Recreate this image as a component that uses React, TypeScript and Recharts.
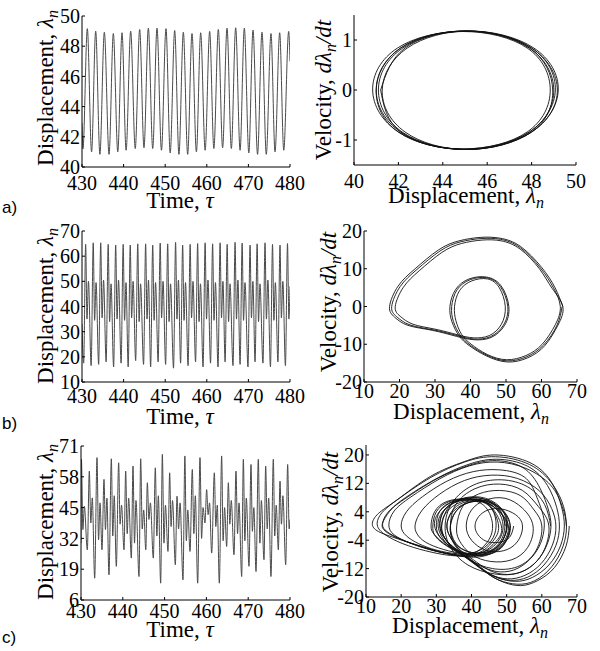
import { LineChart, Line, XAxis, YAxis } from "recharts";

type Pt = [number, number];

const SERIF = "Liberation Serif, DejaVu Serif, serif";
const SANS = "Liberation Sans, Arial, sans-serif";

// tick labels
const timeTicks = [430, 440, 450, 460, 470, 480];
const dispTicksA = [40, 42, 44, 46, 48, 50];
const velTicksA = [-1, 0, 1];
const dispTicksB = [10, 20, 30, 40, 50, 60, 70];
const velTicksB = [-20, -10, 0, 10, 20];
const dispTicksC = [6, 19, 32, 45, 58, 71];
const velTicksC = [-20, -12, -4, 4, 12, 20];

// a) time series: [tau, lambda] at turning points
const tsA: Pt[] = [
  [430, 42.9], [430.23, 41.2], [431.28, 49.16], [432.3, 41.0], [433.29, 49.0], [434.3, 40.84],
  [435.37, 48.93], [436.5, 40.84], [437.53, 48.84], [438.6, 41.0], [439.62, 48.89], [440.6, 41.11],
  [441.7, 49.0], [442.8, 41.22], [443.86, 49.11], [444.9, 41.27], [445.95, 49.2], [447.0, 41.22],
  [448.03, 49.2], [449.1, 41.11], [450.19, 49.16], [451.2, 40.93], [452.28, 49.04], [453.3, 40.84],
  [454.36, 48.93], [455.4, 40.84], [456.44, 48.84], [457.5, 41.0], [458.53, 48.89], [459.6, 41.11],
  [460.69, 48.98], [461.7, 41.22], [462.77, 49.11], [463.8, 41.27], [464.86, 49.2], [465.9, 41.22],
  [466.94, 49.22], [468.0, 41.11], [469.02, 49.2], [470.1, 40.93], [471.11, 49.07], [472.2, 40.84],
  [473.27, 48.93], [474.3, 40.84], [475.43, 48.84], [476.4, 41.0], [477.52, 48.89], [478.5, 41.11],
  [479.68, 48.98], [480, 47.0],
];

// a) phase portrait: [lambda, dlambda/dt]
const phaseA: Pt[] = [
  [41.2, 0], [42.3, 0.84], [45.1, 1.18], [48.0, 0.84], [49.16, 0], [48.0, -0.84], [45.0, -1.19], [42.1, -0.84],
  [41.0, 0], [42.1, 0.84], [45.0, 1.18], [47.9, 0.84], [49.0, 0], [47.9, -0.84], [44.9, -1.18], [42.0, -0.84],
  [40.84, 0], [41.96, 0.84], [44.9, 1.17], [47.8, 0.84], [48.84, 0], [47.8, -0.84], [44.9, -1.18], [42.0, -0.84],
  [41.0, 0], [42.1, 0.84], [45.0, 1.18], [47.9, 0.84], [48.95, 0], [48.0, -0.84], [45.1, -1.19], [42.3, -0.84],
  [41.27, 0], [42.4, 0.84], [45.2, 1.18], [48.1, 0.84], [49.2, 0], [48.0, -0.84], [45.1, -1.19], [42.2, -0.85],
  [41.1, 0], [42.2, 0.84], [45.1, 1.18], [48.0, 0.84], [49.07, 0], [47.9, -0.84], [45.0, -1.19], [42.1, -0.84],
  [41.2, 0],
];

// b) time series
const tsB: Pt[] = [
  [430, 33], [430.4, 17.5], [430.88, 64.7], [431.2, 35], [431.55, 50], [432.2, 16.5],
  [432.7, 65.3], [433.03, 34.5], [433.38, 49.5], [434.0, 17], [434.5, 65.3], [434.83, 35.5],
  [435.18, 50.5], [435.8, 18], [436.3, 64.7], [436.63, 34], [436.98, 49], [437.6, 16],
  [438.1, 64.4], [438.43, 35], [438.78, 50.5], [439.4, 17.5], [439.9, 64.7], [440.23, 34.5],
  [440.58, 49.5], [441.1, 16], [441.6, 64.4], [441.93, 35.5], [442.28, 50], [442.9, 18.5],
  [443.4, 64.9], [443.73, 34], [444.08, 49], [444.8, 17], [445.3, 64.9], [445.63, 35],
  [445.98, 50.5], [446.5, 16], [447.0, 64.4], [447.33, 34.5], [447.68, 49.5], [448.3, 18],
  [448.8, 65.2], [449.13, 35.5], [449.48, 50], [450.1, 17], [450.6, 64.9], [450.93, 34],
  [451.28, 49], [452.0, 15.5], [452.5, 65.5], [452.83, 35], [453.18, 50.5], [453.7, 17.5],
  [454.2, 64.4], [454.53, 34.5], [454.88, 49.5], [455.5, 16.5], [456.0, 64.7], [456.33, 35.5],
  [456.68, 50], [457.3, 18], [457.8, 65], [458.13, 34], [458.48, 49], [459.1, 16],
  [459.6, 65.3], [459.93, 35], [460.28, 50.5], [460.9, 17.5], [461.4, 64.9], [461.73, 34.5],
  [462.08, 49.5], [462.7, 16], [463.2, 65.3], [463.53, 35.5], [463.88, 50], [464.4, 18],
  [464.9, 64.7], [465.23, 34], [465.58, 49], [466.3, 16.5], [466.8, 65.5], [467.13, 35],
  [467.48, 50.5], [468.0, 17], [468.5, 65.2], [468.83, 34.5], [469.18, 49.5], [469.9, 16],
  [470.4, 64.4], [470.73, 35.5], [471.08, 50], [471.6, 18], [472.1, 64.9], [472.43, 34],
  [472.78, 49], [473.5, 17.5], [474.0, 65.3], [474.33, 35], [474.68, 50.5], [475.3, 16],
  [475.8, 64.7], [476.13, 34.5], [476.48, 49.5], [477.1, 18], [477.6, 64.4], [477.93, 35.5],
  [478.28, 50], [478.9, 16.5], [479.4, 65], [479.73, 35], [480, 48],
];

// b) phase portrait
const phaseB: Pt[] = [
  [65.8, 0], [64.4, -4.9], [60.6, -10.2], [55.9, -13.3], [50.3, -14.4], [44.6, -12.9], [39.9, -10.2], [37.1, -7.6],
  [35.2, -4], [34.7, 0], [36.2, 4.4], [39.9, 7.1], [44.6, 7.6], [48.4, 5.3], [50.5, 0], [49.3, -4.9],
  [45.6, -8], [40.9, -8.6], [36.2, -7.7], [29.6, -6.2], [23, -4.9], [19.2, -2.7], [17.8, 0], [20.2, 5.3],
  [24.9, 9.8], [31.4, 14.7], [37.1, 17.1], [43, 18], [48.4, 17.8], [54, 15.6], [59.7, 10.2], [63.4, 4.9],
  [65.3, 0], [63.9, -4.8], [60.2, -10], [55.6, -13], [50.2, -14.1], [44.7, -12.7], [40.2, -10], [37.5, -7.4],
  [35.9, -3.8], [35.5, 0], [36.9, 4.2], [40.4, 6.8], [44.8, 7.3], [48.1, 5], [49.8, 0], [48.7, -4.7],
  [45.3, -7.7], [40.8, -8.3], [36.4, -7.5], [30, -6], [23.8, -4.7], [20.2, -2.6], [18.8, 0], [21.1, 5.1],
  [25.6, 9.5], [31.9, 14.3], [37.5, 16.7], [43.3, 17.6], [48.6, 17.4], [54, 15.2], [59.4, 10], [63, 4.8],
  [66, 0], [64.6, -5], [60.9, -10.4], [56.1, -13.6], [50.4, -14.7], [44.5, -13.1], [39.7, -10.4], [36.8, -7.8],
  [34.8, -4.1], [34.2, 0], [35.8, 4.5], [39.6, 7.3], [44.5, 7.8], [48.6, 5.5], [50.8, 0], [49.6, -5],
  [45.8, -8.2], [41, -8.8], [36, -7.9], [29.2, -6.3], [22.4, -5], [18.6, -2.8], [17.2, 0], [19.6, 5.4],
  [24.4, 10], [31, 15], [36.8, 17.4], [42.7, 18.3], [48.3, 18.1], [54.1, 15.9], [60, 10.4], [63.8, 5], [66, 0],
];

// c) time series
const tsC: Pt[] = [
  [430, 30], [430.1, 65.4], [430.45, 35.7], [430.8, 45.6], [431.51, 27.2],
  [431.99, 60.4], [432.35, 38.5], [432.7, 49.1], [433.27, 15.2],
  [433.83, 66.1], [434.2, 31.4], [434.55, 47], [435.02, 27.2],
  [435.5, 56.9], [435.85, 35.7], [436.2, 49], [436.69, 16.6],
  [437.26, 65.6], [437.6, 33], [437.95, 50], [438.45, 20.2],
  [439.01, 63.9], [439.35, 38], [439.7, 46], [440.29, 27.2],
  [440.69, 60.4], [441.05, 34], [441.4, 49], [442.04, 23.7],
  [442.44, 62.5], [442.8, 30], [443.15, 48], [443.88, 15.9],
  [444.28, 65.6], [444.65, 36], [445, 44], [445.5, 27.2],
  [445.87, 55.5], [446.25, 40], [446.6, 47], [447.3, 23.7],
  [447.78, 61.8], [448.15, 33], [448.5, 50], [449.06, 13.1],
  [449.46, 67.5], [449.85, 30], [450.2, 46], [450.81, 26.5],
  [451.21, 59.7], [451.55, 37], [451.9, 48], [452.57, 20.9],
  [452.97, 49.8], [453.35, 36], [453.7, 47], [454.4, 14.5],
  [454.85, 66.8], [455.2, 31], [455.55, 44], [456.08, 26.5],
  [456.63, 61.1], [457, 34], [457.35, 50], [457.91, 13.1],
  [458.47, 66.1], [458.85, 32], [459.2, 45], [459.66, 38.5],
  [460.06, 52.6], [460.4, 42], [460.75, 47], [461.26, 25.8],
  [461.9, 59.7], [462.25, 37], [462.6, 46], [463.09, 13.1],
  [463.65, 66.8], [464, 31], [464.35, 45], [464.85, 28.6],
  [465.25, 55.5], [465.6, 38], [465.95, 48], [466.6, 25.1],
  [467.08, 60.4], [467.45, 34], [467.8, 47], [468.44, 15.9],
  [468.84, 65.4], [469.2, 31], [469.55, 49], [470.19, 20.2],
  [470.67, 63.2], [471, 35], [471.35, 45], [471.87, 18],
  [472.42, 65.4], [472.8, 30], [473.15, 48], [473.78, 23],
  [474.18, 62.5], [474.55, 36], [474.9, 49], [475.45, 15.9],
  [476.01, 65.4], [476.35, 33], [476.7, 46], [477.21, 27.2],
  [477.61, 56.2], [477.95, 38], [478.3, 50], [478.97, 20.9],
  [479.44, 63.2], [479.8, 36], [480, 40],
];

// c) phase portrait: large excursions
const phaseCOuter: Pt[] = [
  [67.8, 0], [66.9, -5.6], [63.6, -11.7], [58.8, -15.4], [54, -16.8], [49.3, -15.9], [45.5, -14], [41.7, -11.2],
  [37, -8], [32, -5], [29.5, -2.5], [29, 0], [30, 4], [33.5, 6.8], [38.5, 7.6], [43.5, 6.8], [48, 4], [50, 0],
  [48.5, -4.5], [44.5, -7.6], [39, -8.6], [32, -7.6], [25, -5.6], [19, -3.6], [14, -1.8], [11.8, 0.4], [13.5, 3.5],
  [18.9, 7.4], [28.4, 14], [37.9, 18.1], [46.5, 20], [56.9, 17.7], [63, 11.9], [65.6, 5.4],
  [66.4, 0], [65.3, -5.6], [62, -11], [57.3, -14.5], [52.5, -15.6], [47.5, -14.6], [43.5, -12.3], [39.5, -9.2],
  [35, -6], [32, -3], [31, 0], [32, 4], [35.5, 6.8], [40.5, 7.4], [45, 6], [48.5, 0], [47, -4.3], [43, -7.5],
  [37.5, -8.3], [30.5, -7.2], [24, -5.3], [18.5, -3.2], [15, -1], [15, 1.5], [17.5, 5], [22, 8.5], [30.5, 13.6],
  [39, 17.3], [47, 18.8], [56, 16.8], [61.6, 11.4], [64.2, 5.3],
  [65, 0], [64, -5.5], [60.6, -11], [56, -14.4], [51, -15.3], [46, -14], [42, -11.5], [38, -8.5], [33, -5.5],
  [29.5, -2.5], [28.5, 0], [29.5, 4], [33, 6.9], [38.5, 7.7], [44, 7], [49, 4.3], [51, 0], [49.5, -4.5],
  [45.5, -7.8], [40, -8.8], [33, -7.8], [26, -5.8], [20, -3.8], [16, -1.6], [14.7, 0.5], [16.2, 3.8], [21, 7.6],
  [30, 13.2], [38.5, 16.8], [46, 18.4], [54.5, 16.5], [59.5, 10.6], [61.8, 4.8],
  [62.6, 0], [61.5, -5.2], [58.5, -10], [54, -13], [49, -13.6], [44.5, -12.2], [40.5, -9.5], [36.5, -6.5],
  [34, -3.2], [33, 0], [34.3, 4], [37.5, 6.5], [42, 7], [45.8, 4.8], [47, 0], [45.5, -4.3], [41.5, -7.2],
  [36, -7.8], [30, -6.8], [25, -5], [21.5, -2.8], [20, 0], [21.5, 4], [26, 8.2], [33, 12.6], [40.5, 15.3],
  [48, 15.8], [55, 13.8], [58.3, 8.8], [60.1, 4],
  [60.7, 0], [59.6, -5], [56.5, -9.5], [52, -12.4], [47, -12.8], [42.5, -11.2], [38.5, -8.6], [35.5, -5.3],
  [34.2, -2.5], [34, 0], [35.5, 4], [39, 6.5], [43.5, 6.8], [47.3, 4.5], [49, 0], [47.5, -4.4], [43.5, -7.3],
  [38, -7.8], [32, -6.6], [27, -4.6], [24.5, -2.2], [24, 0.5], [26, 4.5], [31, 9], [38, 12.8], [45.5, 14.3],
  [53, 13.4], [59.4, 9.8], [62.8, 4.9],
  [64, 0], [63, -5.4], [59.8, -10.6], [55.2, -13.9], [50.2, -14.9], [45.3, -13.6], [41.2, -11], [37.2, -8],
  [33.5, -4.8], [31.8, -2.2], [31.5, 0], [32.8, 4.2], [36, 6.9], [41, 7.4], [45.2, 5.6], [47.7, 0], [46, -4.4],
  [42, -7.6], [36, -8.1], [29, -6.9], [22.5, -4.8], [18, -2.5], [16.5, 0.3], [18, 4.2], [22.8, 8.2], [31, 13.3],
  [39.3, 16.9], [47.3, 18], [55.5, 16.2], [62.5, 11.5], [65.8, 5.5],
  [67, 0], [66, -5.8], [62.8, -11.5], [58, -15.4], [53, -16.4], [48, -15.3], [44, -13], [40, -9.8], [35, -6.5],
  [31.2, -3.3], [30, 0], [31, 4.2], [34.5, 6.8], [39.5, 7.3], [44, 5.3], [46, 0], [44.3, -4.8], [40, -7.9],
  [34, -8.3], [27, -7], [20.5, -5], [15.5, -2.5], [13.2, 0.3], [14.6, 3.8], [19.5, 7.8], [28.5, 13.7], [38, 18],
  [46.8, 19.5], [56.5, 17.3], [63, 11.8], [66.2, 5.4], [67, 0],
];

// c) phase portrait: mid-size loops round the centre
const phaseCMid: Pt[] = [
  [52, 0], [50.8, -3.2], [47.8, -4.6], [44.2, -4.3], [41.8, -2.4], [41, 0], [42, 2.6], [44.7, 4.5], [48.5, 4.8], [52.5, 3.2],
  [54.5, 0], [53, -4.5], [49, -7], [44, -6.8], [40, -4], [38.5, 0], [40, 4.5], [44, 7.3], [49.5, 7.8], [54.5, 5],
  [57.5, 0], [56, -6], [51.5, -9.5], [45.5, -10], [40, -8], [36.5, -4], [35.8, 0], [37.5, 5.5], [42, 9], [48, 10],
  [54, 8.5], [57.8, 4.5], [60, 0], [58.3, -7], [53, -11.5], [46, -12], [39.5, -9.5], [35, -5], [34, 0], [35.5, 6],
  [41, 10.5], [48, 11.8], [54.5, 10], [59, 5.5], [62, 0], [60, -8], [54, -13], [46.5, -13.5], [39, -11], [34, -6],
  [32.5, 0], [34.5, 6.5], [40.5, 11.5], [48.5, 13], [56, 11], [60.8, 6], [62.5, 0],
];

// c) phase portrait: small inner loops
const phaseCInner: Pt[] = [
  [51, 0], [49.3, -5.2], [45, -8], [39, -8], [33.5, -5.5], [30.5, 0], [32.5, 4.8], [37.5, 7.5], [43.5, 7.6], [48.5, 4.6],
  [50, 0], [48.3, -5], [44.2, -7.7], [38.5, -7.6], [33.5, -5], [31.5, 0], [33.5, 4.6], [38.5, 7.2], [44, 7.1], [48, 4.3],
  [49.5, 0], [48, -4.7], [44, -7.4], [39, -7.2], [35, -4.6], [33, 0], [35, 4.3], [39.5, 6.7], [44.3, 6.6], [48, 3.9],
  [50.5, 0], [48.8, -5], [44.5, -7.8], [38.8, -7.9], [33.2, -5.3], [29.5, 0], [31.8, 5], [37, 7.6], [43.2, 7.7], [48.3, 4.8],
  [51, 0], [49.5, -4.8], [45.5, -7.7], [40, -8.2], [34.5, -5.8], [31, 0], [33, 5.2], [38, 7.9], [44, 7.8], [48.8, 4.6],
  [50.2, 0], [48.5, -4.6], [44.8, -7.3], [39.5, -7.4], [35.5, -4.8], [34, 0], [35.8, 4.4], [40, 6.9], [44.8, 6.9], [48.3, 4.2],
  [49.6, 0],
];

const AXIS_W = 60;
const AXIS_H = 40;
const PAD_T = 12;
const PAD_R = 26;
const TICK = { fill: "#000", fontSize: 20, fontFamily: SERIF, style: { fontFamily: SERIF } };

function Panel({
  box,
  xDomain,
  yDomain,
  xTicks,
  yTicks,
  gap,
  paths,
  curve,
  stroke,
  strokeWidth,
}: {
  box: [number, number, number, number];
  xDomain: [number, number];
  yDomain: [number, number];
  xTicks: number[];
  yTicks: number[];
  gap: number;
  paths: Pt[][];
  curve: "monotone" | "natural";
  stroke: string;
  strokeWidth: number;
}) {
  const [x0, y0, x1, y1] = box;
  const w = x1 - x0 + AXIS_W + PAD_R;
  const h = y1 - y0 + PAD_T + AXIS_H;
  return (
    <div style={{ position: "absolute", left: x0 - AXIS_W, top: y0 - PAD_T }}>
      <LineChart width={w} height={h} margin={{ top: PAD_T, right: PAD_R, left: 0, bottom: 0 }}>
        <XAxis
          type="number"
          dataKey="x"
          domain={xDomain}
          ticks={xTicks}
          interval={0}
          height={AXIS_H}
          tickSize={-3}
          tickMargin={gap}
          stroke="#000"
          tick={TICK}
          allowDataOverflow
        />
        <YAxis
          type="number"
          domain={yDomain}
          ticks={yTicks}
          interval={0}
          width={AXIS_W}
          tickSize={-3}
          tickMargin={5}
          stroke="#000"
          tick={TICK}
          allowDataOverflow
        />
        {paths.map((p, i) => (
          <Line
            key={i}
            data={p.map(([x, y]) => ({ x, y }))}
            dataKey="y"
            type={curve}
            stroke={stroke}
            strokeWidth={strokeWidth}
            dot={false}
            activeDot={false}
            isAnimationActive={false}
          />
        ))}
      </LineChart>
    </div>
  );
}

function Lam() {
  return (
    <>
      <tspan fontStyle="italic">λ</tspan>
      <tspan fontStyle="italic" fontSize={16} dy={5}>n</tspan>
    </>
  );
}

function Titles() {
  const t = { fontSize: 23, fill: "#000", style: { fontFamily: SERIF } };
  const dispY = (y: number) => (
    <text {...t} textAnchor="middle" transform={`translate(53, ${y}) rotate(-90)`}>
      Displacement, <Lam />
    </text>
  );
  const velY = (x: number, y: number) => (
    <text {...t} textAnchor="middle" transform={`translate(${x}, ${y}) rotate(-90)`}>
      Velocity, <tspan fontStyle="italic">d</tspan>
      <Lam />
      <tspan fontStyle="italic" dy={-5}>/dt</tspan>
    </text>
  );
  const time = (y: number) => (
    <text {...t} x={180} y={y} textAnchor="middle">
      Time, <tspan fontStyle="italic">τ</tspan>
    </text>
  );
  const disp = (x: number, y: number) => (
    <text {...t} x={x} y={y} textAnchor="middle">
      Displacement, <Lam />
    </text>
  );
  const letter = (s: string, y: number) => (
    <text x={2} y={y} fontSize={17} fill="#000" style={{ fontFamily: SANS }}>
      {s}
    </text>
  );
  return (
    <svg width={600} height={651} style={{ position: "absolute", left: 0, top: 0, pointerEvents: "none" }}>
      {dispY(88)}
      {dispY(306)}
      {dispY(522)}
      {velY(331, 90)}
      {velY(336, 302)}
      {velY(338, 522)}
      {time(208)}
      {time(424)}
      {time(637)}
      {disp(466, 203)}
      {disp(471, 419)}
      {disp(470, 633)}
      {letter("a)", 213)}
      {letter("b)", 429)}
      {letter("c)", 643)}
    </svg>
  );
}

export default function App() {
  const ts = { curve: "monotone" as const, stroke: "#4a4a4a", strokeWidth: 1 };
  const ph = { curve: "natural" as const, stroke: "#111", strokeWidth: 0.9 };
  return (
    <div style={{ position: "absolute", left: 0, top: 0, width: 600, height: 651, background: "#fff", fontFamily: SERIF }}>
      <Panel box={[82, 16, 290, 167]} xDomain={[430, 480]} yDomain={[40, 50]} xTicks={timeTicks} yTicks={dispTicksA} gap={12} paths={[tsA]} {...ts} />
      <Panel box={[354, 15, 576, 165]} xDomain={[40, 50]} yDomain={[-1.5, 1.5]} xTicks={dispTicksA} yTicks={velTicksA} gap={12} paths={[phaseA]} {...ph} />
      <Panel box={[82, 231, 290, 382]} xDomain={[430, 480]} yDomain={[10, 70]} xTicks={timeTicks} yTicks={dispTicksB} gap={10} paths={[tsB]} {...ts} />
      <Panel box={[364, 231, 577, 382]} xDomain={[10, 70]} yDomain={[-20, 20]} xTicks={dispTicksB} yTicks={velTicksB} gap={5} paths={[phaseB]} {...ph} />
      <Panel box={[81, 446, 290, 600]} xDomain={[430, 480]} yDomain={[6, 71]} xTicks={timeTicks} yTicks={dispTicksC} gap={7} paths={[tsC]} {...ts} />
      <Panel box={[366, 445, 577, 597]} xDomain={[10, 70]} yDomain={[-20, 22.8]} xTicks={dispTicksB} yTicks={velTicksC} gap={5} paths={[phaseCOuter, phaseCMid, phaseCInner]} {...ph} />
      <Titles />
    </div>
  );
}
